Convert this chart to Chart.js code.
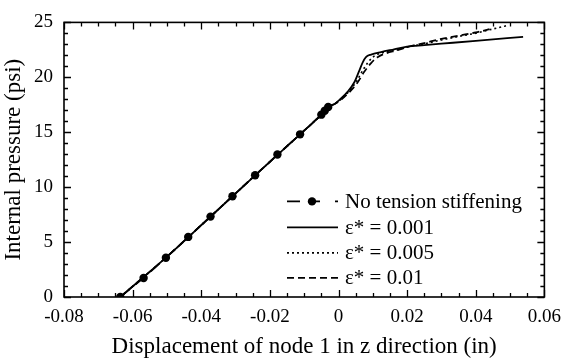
<!DOCTYPE html>
<html><head><meta charset="utf-8">
<script src="https://cdn.jsdelivr.net/npm/chart.js@4/dist/chart.umd.min.js"></script>
<style>html,body{margin:0;padding:0;background:#fff;}#wrap{width:570px;height:361px;position:relative;}</style>
</head><body><div id="wrap"><canvas id="c"></canvas></div>
<script>
// ---- data ----
const xTickValues = [-0.08, -0.06, -0.04, -0.02, 0, 0.02, 0.04, 0.06];
const xTickLabels = ['-0.08', '-0.06', '-0.04', '-0.02', '0', '0.02', '0.04', '0.06'];
const yTickValues = [0, 5, 10, 15, 20, 25];
const yTickLabels = ['0', '5', '10', '15', '20', '25'];
const seriesLabels = ['No tension stiffening', 'ε* = 0.001', 'ε* = 0.005', 'ε* = 0.01'];

const noTsX = [-0.0636, -0.0568, -0.0503, -0.0438, -0.0373, -0.0309, -0.0243, -0.0178, -0.0112, -0.0050, -0.0040, -0.0030];
const noTsY = [0, 1.73, 3.58, 5.47, 7.32, 9.17, 11.08, 12.97, 14.81, 16.6, 16.95, 17.3];

const e001X = [-0.0636, -0.0503, -0.0373, -0.0243, -0.0112, -0.0050, -0.0030, -0.0010, 0.0003, 0.0027, 0.0047, 0.0061, 0.0071, 0.0080, 0.0095, 0.0124, 0.0162, 0.0200, 0.0250, 0.0300, 0.0400, 0.0538];
const e001Y = [0, 3.58, 7.32, 11.08, 14.81, 16.6, 17.3, 17.6, 17.95, 18.7, 19.6, 20.64, 21.39, 21.84, 22.07, 22.3, 22.55, 22.8, 22.93, 23.06, 23.32, 23.68];

const e005X = [-0.0636, -0.0503, -0.0373, -0.0243, -0.0112, -0.0050, -0.0030, -0.0010, 0.0005, 0.0030, 0.0052, 0.0070, 0.0087, 0.0105, 0.0130, 0.0170, 0.0200, 0.0250, 0.0300, 0.0350, 0.0400, 0.0450, 0.0490];
const e005Y = [0, 3.58, 7.32, 11.08, 14.81, 16.6, 17.3, 17.6, 17.95, 18.7, 19.6, 20.6, 21.4, 21.95, 22.25, 22.5, 22.75, 23.05, 23.4, 23.72, 24.02, 24.4, 24.7];

const e01X = [-0.0636, -0.0503, -0.0373, -0.0243, -0.0112, -0.0050, -0.0030, -0.0010, 0.0005, 0.0030, 0.0055, 0.0075, 0.0095, 0.0115, 0.0140, 0.0170, 0.0200, 0.0250, 0.0300, 0.0350, 0.0400, 0.0440];
const e01Y = [0, 3.58, 7.32, 11.08, 14.81, 16.6, 17.3, 17.6, 17.9, 18.6, 19.5, 20.5, 21.3, 21.85, 22.2, 22.45, 22.75, 23.12, 23.5, 23.8, 24.08, 24.38];

const xMinorStep = 0.005;
const yMinorStep = 1;

// ---- build chart ----
const FONT = "'Liberation Serif', 'Times New Roman', serif";
const pts = (xs, ys) => xs.map((x, i) => ({x: x, y: ys[i]}));

const frameTicks = {
  id: 'frameTicks',
  afterDraw(chart) {
    const {ctx, chartArea: a, scales: {x, y}} = chart;
    ctx.save();
    ctx.strokeStyle = '#000';
    ctx.lineWidth = 1.6;
    ctx.setLineDash([]);
    ctx.strokeRect(a.left, a.top, a.right - a.left, a.bottom - a.top);
    ctx.lineWidth = 1.3;
    ctx.beginPath();
    const nx = Math.round((x.max - x.min) / xMinorStep);
    for (let i = 0; i <= nx; i++) {
      const v = x.min + i * xMinorStep;
      const p = Math.round(x.getPixelForValue(v)) + 0.5;
      const len = (i % 4 === 0) ? 7 : 4;
      ctx.moveTo(p, a.bottom); ctx.lineTo(p, a.bottom - len);
      ctx.moveTo(p, a.top); ctx.lineTo(p, a.top + len);
    }
    const ny = Math.round((y.max - y.min) / yMinorStep);
    for (let i = 0; i <= ny; i++) {
      const v = y.min + i * yMinorStep;
      const p = Math.round(y.getPixelForValue(v)) + 0.5;
      const len = (i % 5 === 0) ? 7 : 4;
      ctx.moveTo(a.left, p); ctx.lineTo(a.left + len, p);
      ctx.moveTo(a.right, p); ctx.lineTo(a.right - len, p);
    }
    ctx.stroke();
    ctx.restore();
  }
};

const legendPlugin = {
  id: 'insideLegend',
  afterDraw(chart) {
    const {ctx, chartArea: a} = chart;
    const ds = chart.data.datasets;
    const x0 = a.left + 223, x1 = a.left + 274, tx = a.left + 281;
    const rows = [a.top + 179, a.top + 205, a.top + 230.5, a.top + 255.5];
    ctx.save();
    ctx.fillStyle = '#000';
    ctx.strokeStyle = '#000';
    ctx.font = '21px ' + FONT;
    ctx.textBaseline = 'middle';
    ctx.textAlign = 'left';
    ds.forEach((d, i) => {
      const yy = rows[i];
      ctx.lineWidth = d.borderWidth;
      if (i === 0) {
        ctx.setLineDash([]);
        ctx.beginPath();
        ctx.moveTo(x0, yy); ctx.lineTo(x0 + 13, yy);
        ctx.moveTo(x0 + 21, yy); ctx.lineTo(x0 + 33, yy);
        ctx.moveTo(x1 - 3, yy); ctx.lineTo(x1, yy);
        ctx.stroke();
        ctx.beginPath();
        ctx.arc(x0 + 25, yy, d.pointRadius, 0, Math.PI * 2);
        ctx.fill();
      } else {
        ctx.setLineDash(d.borderDash || []);
        ctx.beginPath();
        ctx.moveTo(x0, yy); ctx.lineTo(x1, yy);
        ctx.stroke();
      }
      ctx.setLineDash([]);
      ctx.fillText(d.label, tx, yy + 1);
    });
    ctx.restore();
  }
};

new Chart(document.getElementById('c'), {
  type: 'scatter',
  data: {
    datasets: [
      {label: seriesLabels[0], data: pts(noTsX, noTsY), showLine: true, borderColor: '#000', backgroundColor: '#000',
       borderWidth: 1.6, borderDash: [12, 8], pointRadius: 4.2, pointBackgroundColor: '#000', pointBorderWidth: 0},
      {label: seriesLabels[1], data: pts(e001X, e001Y), showLine: true, borderColor: '#000', borderWidth: 1.8,
       pointRadius: 0, cubicInterpolationMode: 'monotone'},
      {label: seriesLabels[2], data: pts(e005X, e005Y), showLine: true, borderColor: '#000', borderWidth: 1.6,
       borderDash: [2, 3], pointRadius: 0, cubicInterpolationMode: 'monotone'},
      {label: seriesLabels[3], data: pts(e01X, e01Y), showLine: true, borderColor: '#000', borderWidth: 1.8,
       borderDash: [7, 4], pointRadius: 0, cubicInterpolationMode: 'monotone'}
    ]
  },
  options: {
    responsive: true,
    maintainAspectRatio: false,
    animation: false,
    events: [],
    layout: {padding: {top: 18, right: 22, left: 0, bottom: 0}},
    plugins: {legend: {display: false}, tooltip: {enabled: false}},
    scales: {
      x: {
        type: 'linear', min: -0.08, max: 0.06,
        afterBuildTicks: s => { s.ticks = xTickValues.map(v => ({value: v})); },
        afterFit: s => { s.height = 64; },
        grid: {display: false, drawTicks: false},
        border: {display: false},
        ticks: {color: '#000', font: {family: FONT, size: 19}, padding: 9, maxRotation: 0,
                callback: (v, i) => xTickLabels[i]},
        title: {display: true, text: 'Displacement of node 1 in z direction (in)', color: '#000',
                font: {family: FONT, size: 23}, padding: {top: 0, bottom: 0}}
      },
      y: {
        type: 'linear', min: 0, max: 25,
        afterBuildTicks: s => { s.ticks = yTickValues.map(v => ({value: v})); },
        afterFit: s => { s.width = 64; },
        grid: {display: false, drawTicks: false},
        border: {display: false},
        ticks: {color: '#000', font: {family: FONT, size: 19}, padding: 11,
                callback: (v, i) => yTickLabels[i]},
        title: {display: true, text: 'Internal pressure (psi)', color: '#000',
                font: {family: FONT, size: 23}, padding: {top: 0, bottom: 0}}
      }
    }
  },
  plugins: [frameTicks, legendPlugin]
});
</script>
</body></html>
